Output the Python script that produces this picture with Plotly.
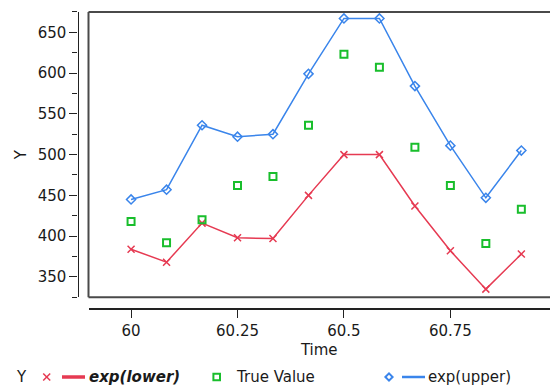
import plotly.graph_objects as go

# ---- data ----
time = [60.0, 60.0833, 60.1667, 60.25, 60.3333, 60.4167, 60.5, 60.5833,
        60.6667, 60.75, 60.8333, 60.9167]
exp_lower = [384, 368, 416, 398, 397, 450, 500, 500, 437, 382, 335, 378]
true_value = [418, 392, 420, 462, 473, 536, 623, 607, 509, 462, 391, 433]
exp_upper = [445, 457, 536, 522, 525, 599, 667, 667, 584, 511, 447, 505]
x_ticks = [60, 60.25, 60.5, 60.75]
x_ticklabels = ["60", "60.25", "60.5", "60.75"]
y_ticks = [350, 400, 450, 500, 550, 600, 650]

RED = "#E63A52"
GREEN = "#19BE2C"
BLUE = "#3A85EB"
FONT = "DejaVu Sans"
W, H = 550, 387
ML, MR, MT, MB = 60, 0, 10, 60
PW = W - ML - MR
PH = H - MT - MB


def px(x):
    return (x - ML) / PW


def py(y):
    return (H - MB - y) / PH


fig = go.Figure()
fig.add_trace(go.Scatter(
    x=time, y=exp_lower, mode="lines+markers", name="exp(lower)",
    line=dict(color=RED, width=1.5),
    marker=dict(symbol="x-thin", size=7, color=RED,
                line=dict(color=RED, width=1.5)),
))
fig.add_trace(go.Scatter(
    x=time, y=true_value, mode="markers", name="True Value",
    marker=dict(symbol="square-open", size=7, color=GREEN,
                line=dict(color=GREEN, width=2)),
))
fig.add_trace(go.Scatter(
    x=time, y=exp_upper, mode="lines+markers", name="exp(upper)",
    line=dict(color=BLUE, width=1.5),
    marker=dict(symbol="diamond-open", size=7, color=BLUE,
                line=dict(color=BLUE, width=1.5)),
))

x_dom0 = px(88.5)
y_dom0 = py(297.3)
y_dom1 = py(11.9)

fig.update_layout(
    width=W, height=H,
    margin=dict(l=ML, r=MR, t=MT, b=MB),
    plot_bgcolor="white", paper_bgcolor="white",
    showlegend=False,
    font=dict(family=FONT, size=15, color="#1a1a1a"),
    xaxis=dict(
        domain=[x_dom0, 1], range=[59.9, 60.984],
        anchor="free", position=py(309.3),
        tickvals=x_ticks, ticktext=x_ticklabels,
        ticks="outside", ticklen=8, tickwidth=1.2, tickcolor="#222",
        showline=True, linecolor="#222", linewidth=1.5,
        showgrid=False, zeroline=False,
        title=dict(text="Time", standoff=4, font=dict(size=15)),
    ),
    yaxis=dict(
        domain=[y_dom0, y_dom1], range=[325, 675],
        anchor="free", position=px(77.5),
        tickvals=y_ticks, ticks="outside", ticklen=8, tickwidth=1.2,
        tickcolor="#222",
        minor=dict(dtick=25, tick0=325, ticks="outside", ticklen=5,
                   tickcolor="#222", tickwidth=1.2),
        showline=True, linecolor="#222", linewidth=1.2,
        showgrid=False, zeroline=False,
        title=dict(text="Y", standoff=6, font=dict(size=15)),
    ),
)

# frame (left, top, bottom)
frame_col = "#4a4a4a"
for (x0, y0, x1, y1) in [(0, 0, 0, 1), (0, 1, 1, 1), (0, 0, 1, 0)]:
    fig.add_shape(type="line", xref="x domain", yref="y domain",
                  x0=x0, y0=y0, x1=x1, y1=y1,
                  line=dict(color=frame_col, width=2))

# ---- custom legend ----
LY = 377
shapes = []
# red x
s = 3.5
shapes.append(dict(type="line", x0=px(46.7 - s), x1=px(46.7 + s), y0=py(LY - s), y1=py(LY + s),
                   line=dict(color=RED, width=1.5)))
shapes.append(dict(type="line", x0=px(46.7 - s), x1=px(46.7 + s), y0=py(LY + s), y1=py(LY - s),
                   line=dict(color=RED, width=1.5)))
# red line
shapes.append(dict(type="line", x0=px(62), x1=px(85), y0=py(LY), y1=py(LY),
                   line=dict(color=RED, width=3.5)))
# green square
q = 3.3
shapes.append(dict(type="rect", x0=px(216.7 - q), x1=px(216.7 + q), y0=py(LY + q), y1=py(LY - q),
                   line=dict(color=GREEN, width=2)))
# blue diamond
d = 3.6
cx = 389
shapes.append(dict(type="path",
                   path=f"M {px(cx - d)} {py(LY)} L {px(cx)} {py(LY - d)} L {px(cx + d)} {py(LY)} L {px(cx)} {py(LY + d)} Z",
                   line=dict(color=BLUE, width=2)))
shapes.append(dict(type="line", x0=px(402), x1=px(425), y0=py(LY), y1=py(LY),
                   line=dict(color=BLUE, width=2.5)))
for sh in shapes:
    sh["xref"] = "paper"
    sh["yref"] = "paper"
    fig.add_shape(**sh)

annos = [
    ("Y", 14, dict()),
    ("<b><i>exp(lower)</i></b>", 87, dict()),
    ("True Value", 234, dict()),
    ("exp(upper)", 426, dict()),
]
for text, xx, _ in annos:
    fig.add_annotation(text=text, xref="paper", yref="paper",
                       x=px(xx), y=py(LY), xanchor="left", yanchor="middle",
                       showarrow=False, font=dict(family=FONT, size=15, color="#1a1a1a"))

fig.write_html("out.html")
